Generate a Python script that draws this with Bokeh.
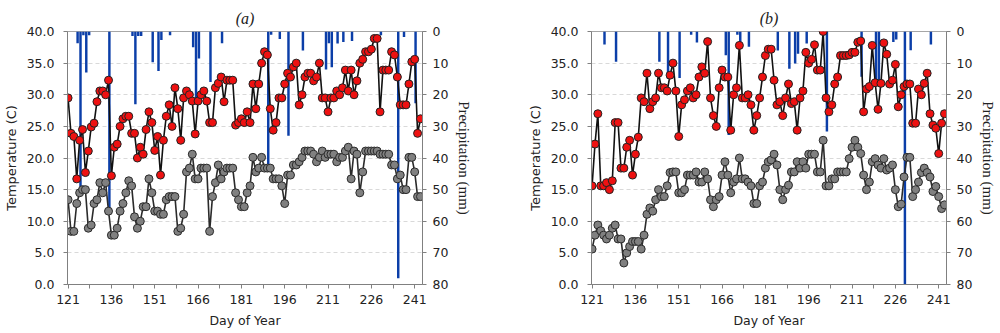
from bokeh.plotting import figure
from bokeh.models import Range1d, LinearAxis, FixedTicker, NumeralTickFormatter, ColumnDataSource
from bokeh.layouts import row
from bokeh.transform import dodge
from bokeh.embed import file_html
from bokeh.resources import INLINE

days = list(range(121, 244))

# Panel (a)
tmax_a = [29.5, 23.9, 23.4, 16.7, 22.8, 24.5, 17.7, 21.1, 24.9, 25.5,
          28.9, 30.6, 30.6, 30.0, 32.3, 17.2, 21.7, 22.2, 25.0, 26.2,
          26.6, 26.6, 23.9, 23.9, 20.0, 21.7, 20.6, 24.5, 27.3, 25.6,
          21.2, 23.4, 17.3, 22.8, 26.6, 28.4, 25.0, 31.1, 27.8, 22.8,
          29.5, 30.6, 30.0, 29.0, 23.8, 29.0, 30.0, 30.6, 29.0, 25.6,
          25.6, 31.1, 31.8, 32.8, 28.9, 32.3, 32.3, 32.3, 25.2, 25.6,
          26.2, 25.6, 27.3, 25.6, 31.7, 27.8, 31.7, 35.0, 36.8, 36.3,
          27.8, 24.4, 25.6, 29.5, 29.5, 31.7, 33.4, 32.8, 34.4, 35.0,
          28.4, 30.0, 32.8, 33.4, 33.4, 32.2, 32.8, 35.0, 29.5, 29.5,
          27.3, 29.5, 29.5, 30.6, 30.0, 31.1, 33.9, 30.6, 33.9, 30.0,
          32.2, 35.0, 35.6, 36.8, 36.8, 37.2, 38.9, 38.9, 27.3, 33.9,
          33.9, 33.9, 36.8, 36.3, 32.8, 28.4, 28.4, 28.4, 31.7, 35.2,
          35.6, 23.9, 26.2]
tmin_a = [13.4, 8.4, 8.4, 12.8, 14.5, 15.0, 15.0, 8.9, 9.4, 12.8,
          13.4, 16.1, 14.5, 16.1, 11.6, 7.8, 7.8, 8.9, 11.6, 12.8,
          14.5, 16.4, 15.6, 10.7, 8.9, 10.0, 12.3, 12.3, 16.7, 14.5,
          11.6, 11.6, 11.1, 11.1, 13.4, 13.9, 13.9, 13.9, 8.4, 8.9,
          11.1, 17.8, 18.4, 20.6, 16.7, 16.7, 18.4, 18.4, 18.4, 8.4,
          13.9, 16.1, 18.9, 16.7, 17.8, 18.4, 18.4, 18.4, 14.5, 13.4,
          12.3, 12.3, 14.5, 15.6, 20.1, 17.8, 18.4, 20.1, 18.4, 18.4,
          18.4, 16.7, 16.7, 16.7, 15.6, 12.8, 17.3, 17.3, 18.9, 18.9,
          19.4, 20.1, 21.1, 21.1, 21.1, 20.6, 19.4, 20.1, 21.1, 20.1,
          20.6, 20.6, 20.6, 19.4, 20.1, 20.1, 21.1, 21.7, 16.7, 21.1,
          20.6, 14.5, 17.8, 21.1, 21.1, 21.1, 21.1, 21.1, 20.6, 20.6,
          20.6, 20.6, 18.9, 18.9, 16.7, 17.3, 15.0, 15.0, 20.1, 20.1,
          17.8, 13.9, 13.9]
prec_days_a = [124, 125, 126, 127, 128, 135, 143, 144, 145, 146, 150, 152, 153, 156,
               164, 165, 166, 170, 174, 190, 191, 194, 197, 202, 210, 211, 212, 214,
               216, 219, 229, 235, 237, 241]
prec_mm_a = [3.7, 49, 1.2, 13, 1.2, 56, 1.4, 23, 1.4, 1.4, 9.7, 12.5, 2.7, 1.2,
             5, 21, 8.5, 16, 3.7, 42, 1.0, 2.4, 33, 6, 12, 3.7, 11.3, 3.8,
             3.3, 3, 1.2, 78, 1.7, 22.7]

# Panel (b)
tmax_b = [15.6, 22.2, 27.0, 15.6, 15.6, 16.1, 15.0, 16.4, 25.6, 25.6,
          18.4, 18.4, 21.7, 22.8, 17.3, 20.6, 23.3, 29.5, 28.9, 33.4,
          27.8, 28.9, 29.5, 33.4, 31.1, 31.1, 30.6, 33.1, 35.0, 30.6,
          23.4, 28.4, 29.2, 30.6, 31.1, 29.5, 30.0, 32.8, 34.4, 33.4,
          38.4, 29.5, 26.7, 25.0, 31.1, 33.9, 32.8, 32.8, 24.4, 30.0,
          31.1, 37.8, 29.5, 29.5, 30.0, 28.4, 24.4, 26.7, 29.5, 32.8,
          36.2, 37.2, 37.2, 32.3, 28.4, 28.9, 26.7, 29.5, 31.7, 28.6,
          28.9, 24.4, 29.5, 30.6, 36.7, 35.0, 35.6, 37.9, 33.9, 33.9,
          40.0, 29.5, 27.3, 28.4, 31.7, 32.8, 36.2, 36.2, 36.2, 36.3,
          36.7, 36.7, 38.3, 38.5, 27.3, 30.9, 31.3, 37.8, 31.9, 27.7,
          31.8, 38.2, 36.4, 31.7, 32.3, 34.8, 28.1, 30.0, 31.3, 31.7,
          31.7, 25.5, 25.5, 30.9, 30.0, 31.8, 33.4, 27.0, 25.2, 24.7,
          20.7, 25.5, 27.0]
tmin_b = [5.6, 7.8, 9.4, 8.5, 7.8, 7.2, 7.8, 8.9, 9.4, 7.2,
          7.2, 3.4, 5.0, 6.0, 6.8, 6.8, 6.8, 5.6, 7.8, 11.1,
          12.1, 11.6, 13.4, 15.0, 13.9, 13.9, 15.6, 17.7, 17.8, 17.8,
          14.5, 14.5, 15.0, 17.3, 17.3, 17.3, 17.8, 16.2, 16.2, 17.8,
          16.7, 13.4, 12.3, 13.4, 13.9, 17.3, 19.4, 17.3, 14.5, 16.2,
          16.7, 20.0, 16.7, 16.7, 16.2, 15.6, 12.8, 12.8, 15.6, 16.2,
          18.4, 19.4, 19.7, 20.6, 18.9, 15.0, 13.4, 15.0, 15.7, 17.8,
          17.8, 19.4, 18.4, 19.4, 18.4, 20.6, 20.6, 20.6, 17.8, 17.8,
          22.8, 15.6, 15.6, 16.7, 16.7, 17.8, 17.8, 17.8, 17.8, 19.9,
          21.7, 22.8, 21.7, 20.7, 17.3, 15.0, 16.2, 19.4, 19.9, 18.9,
          18.4, 19.9, 18.1, 18.4, 18.9, 15.0, 12.3, 12.7, 17.0, 20.1,
          20.1, 13.9, 15.0, 16.2, 17.7, 18.4, 17.7, 17.0, 14.7, 15.5,
          13.9, 12.0, 12.6]
prec_days_b = [125, 129, 144, 147, 151, 155, 157, 167, 168, 171, 172, 175, 185, 189,
               191, 192, 195, 202, 214, 219, 220, 225, 226, 229, 231, 238]
prec_mm_b = [4.1, 9.6, 9.6, 15, 14.7, 1, 3.5, 7.5, 32.7, 1.0, 4.3, 4.8, 6, 11.8,
             10.1, 7, 3.8, 31.6, 14.3, 15.5, 16, 3.3, 2.5, 80, 5.9, 4.1]

x_major = [121, 136, 151, 166, 181, 196, 211, 226, 241]
x_minor = [128.5, 143.5, 158.5, 173.5, 188.5, 203.5, 218.5, 233.5]
temp_ticks = [0, 5, 10, 15, 20, 25, 30, 35, 40]
prec_ticks = [0, 10, 20, 30, 40, 50, 60, 70, 80]

AX = "#808080"
TXT = "#222222"


def style_axis(ax, label_standoff, axis_label_standoff, font="DejaVu Sans", lsize="13px"):
    ax.axis_line_color = AX
    ax.major_tick_line_color = AX
    ax.minor_tick_line_color = AX
    ax.major_tick_in = 0
    ax.major_tick_out = 4
    ax.minor_tick_in = 0
    ax.minor_tick_out = 4
    ax.major_label_text_font = "DejaVu Sans"
    ax.major_label_text_font_size = "12.5px"
    ax.major_label_text_color = TXT
    ax.major_label_standoff = label_standoff
    ax.axis_label_text_font = font
    ax.axis_label_text_font_size = lsize
    ax.axis_label_text_font_style = "normal"
    ax.axis_label_text_color = TXT
    ax.axis_label_standoff = axis_label_standoff


def panel(title, tmax, tmin, pdays, pmm, width, lb, rb, title_offset):
    p = figure(width=width, height=332, output_backend="svg", toolbar_location=None,
               x_range=Range1d(120.8, 243.7), y_range=Range1d(0, 40),
               min_border_left=lb, min_border_right=rb, min_border_top=31,
               min_border_bottom=48, title=title)
    p.title.text_font = "Liberation Serif"
    p.title.text_font_style = "italic"
    p.title.text_font_size = "16px"
    p.title.text_color = TXT
    p.title.align = "center"
    p.title.offset = title_offset
    p.title.standoff = 10
    p.outline_line_color = "#a6a6a6"
    p.background_fill_color = "white"
    p.border_fill_color = "white"
    p.xgrid.visible = False
    p.ygrid.grid_line_color = "#d9d9d9"
    p.ygrid.grid_line_dash = "4 3"
    p.ygrid.grid_line_width = 1

    p.extra_y_ranges = {"prec": Range1d(start=80, end=0)}

    xa = p.xaxis[0]
    xa.ticker = FixedTicker(ticks=x_major, minor_ticks=x_minor)
    xa.axis_label = "Day of Year"
    style_axis(xa, 6, 6, lsize="12.5px")

    ya = p.yaxis[0]
    ya.ticker = FixedTicker(ticks=temp_ticks)
    ya.formatter = NumeralTickFormatter(format="0.0")
    ya.axis_label = "Temperature (C)"
    style_axis(ya, 9, 5)

    ra = LinearAxis(y_range_name="prec", ticker=FixedTicker(ticks=prec_ticks),
                    axis_label="Precipitation (mm)")
    style_axis(ra, 6, 5, font="Liberation Serif", lsize="15px")
    p.add_layout(ra, "right")

    psrc = ColumnDataSource(dict(day=pdays, mm=pmm))
    p.vbar(x=dodge("day", 0.3, range=p.x_range), top=0, bottom="mm", width=0.85,
           source=psrc, y_range_name="prec", fill_color="#0b3ea8", line_color=None)

    src = ColumnDataSource(dict(day=days, tmax=tmax, tmin=tmin))
    p.line("day", "tmin", source=src, line_color="#2b2b2b", line_width=1.6)
    p.scatter("day", "tmin", source=src, size=8, fill_color="#808080",
              line_color="#2b2b2b", line_width=1)
    p.line("day", "tmax", source=src, line_color="#111111", line_width=1.6)
    p.scatter("day", "tmax", source=src, size=8, fill_color="#ee1111",
              line_color="#222222", line_width=1)
    return p


pa = panel("(a)", tmax_a, tmin_a, prec_days_a, prec_mm_a, 500, 62, 78, -6)
pb = panel("(b)", tmax_b, tmin_b, prec_days_b, prec_mm_b, 499, 91, 48, 6)

layout = row(pa, pb)
open("out.html", "w").write(file_html(layout, INLINE))
